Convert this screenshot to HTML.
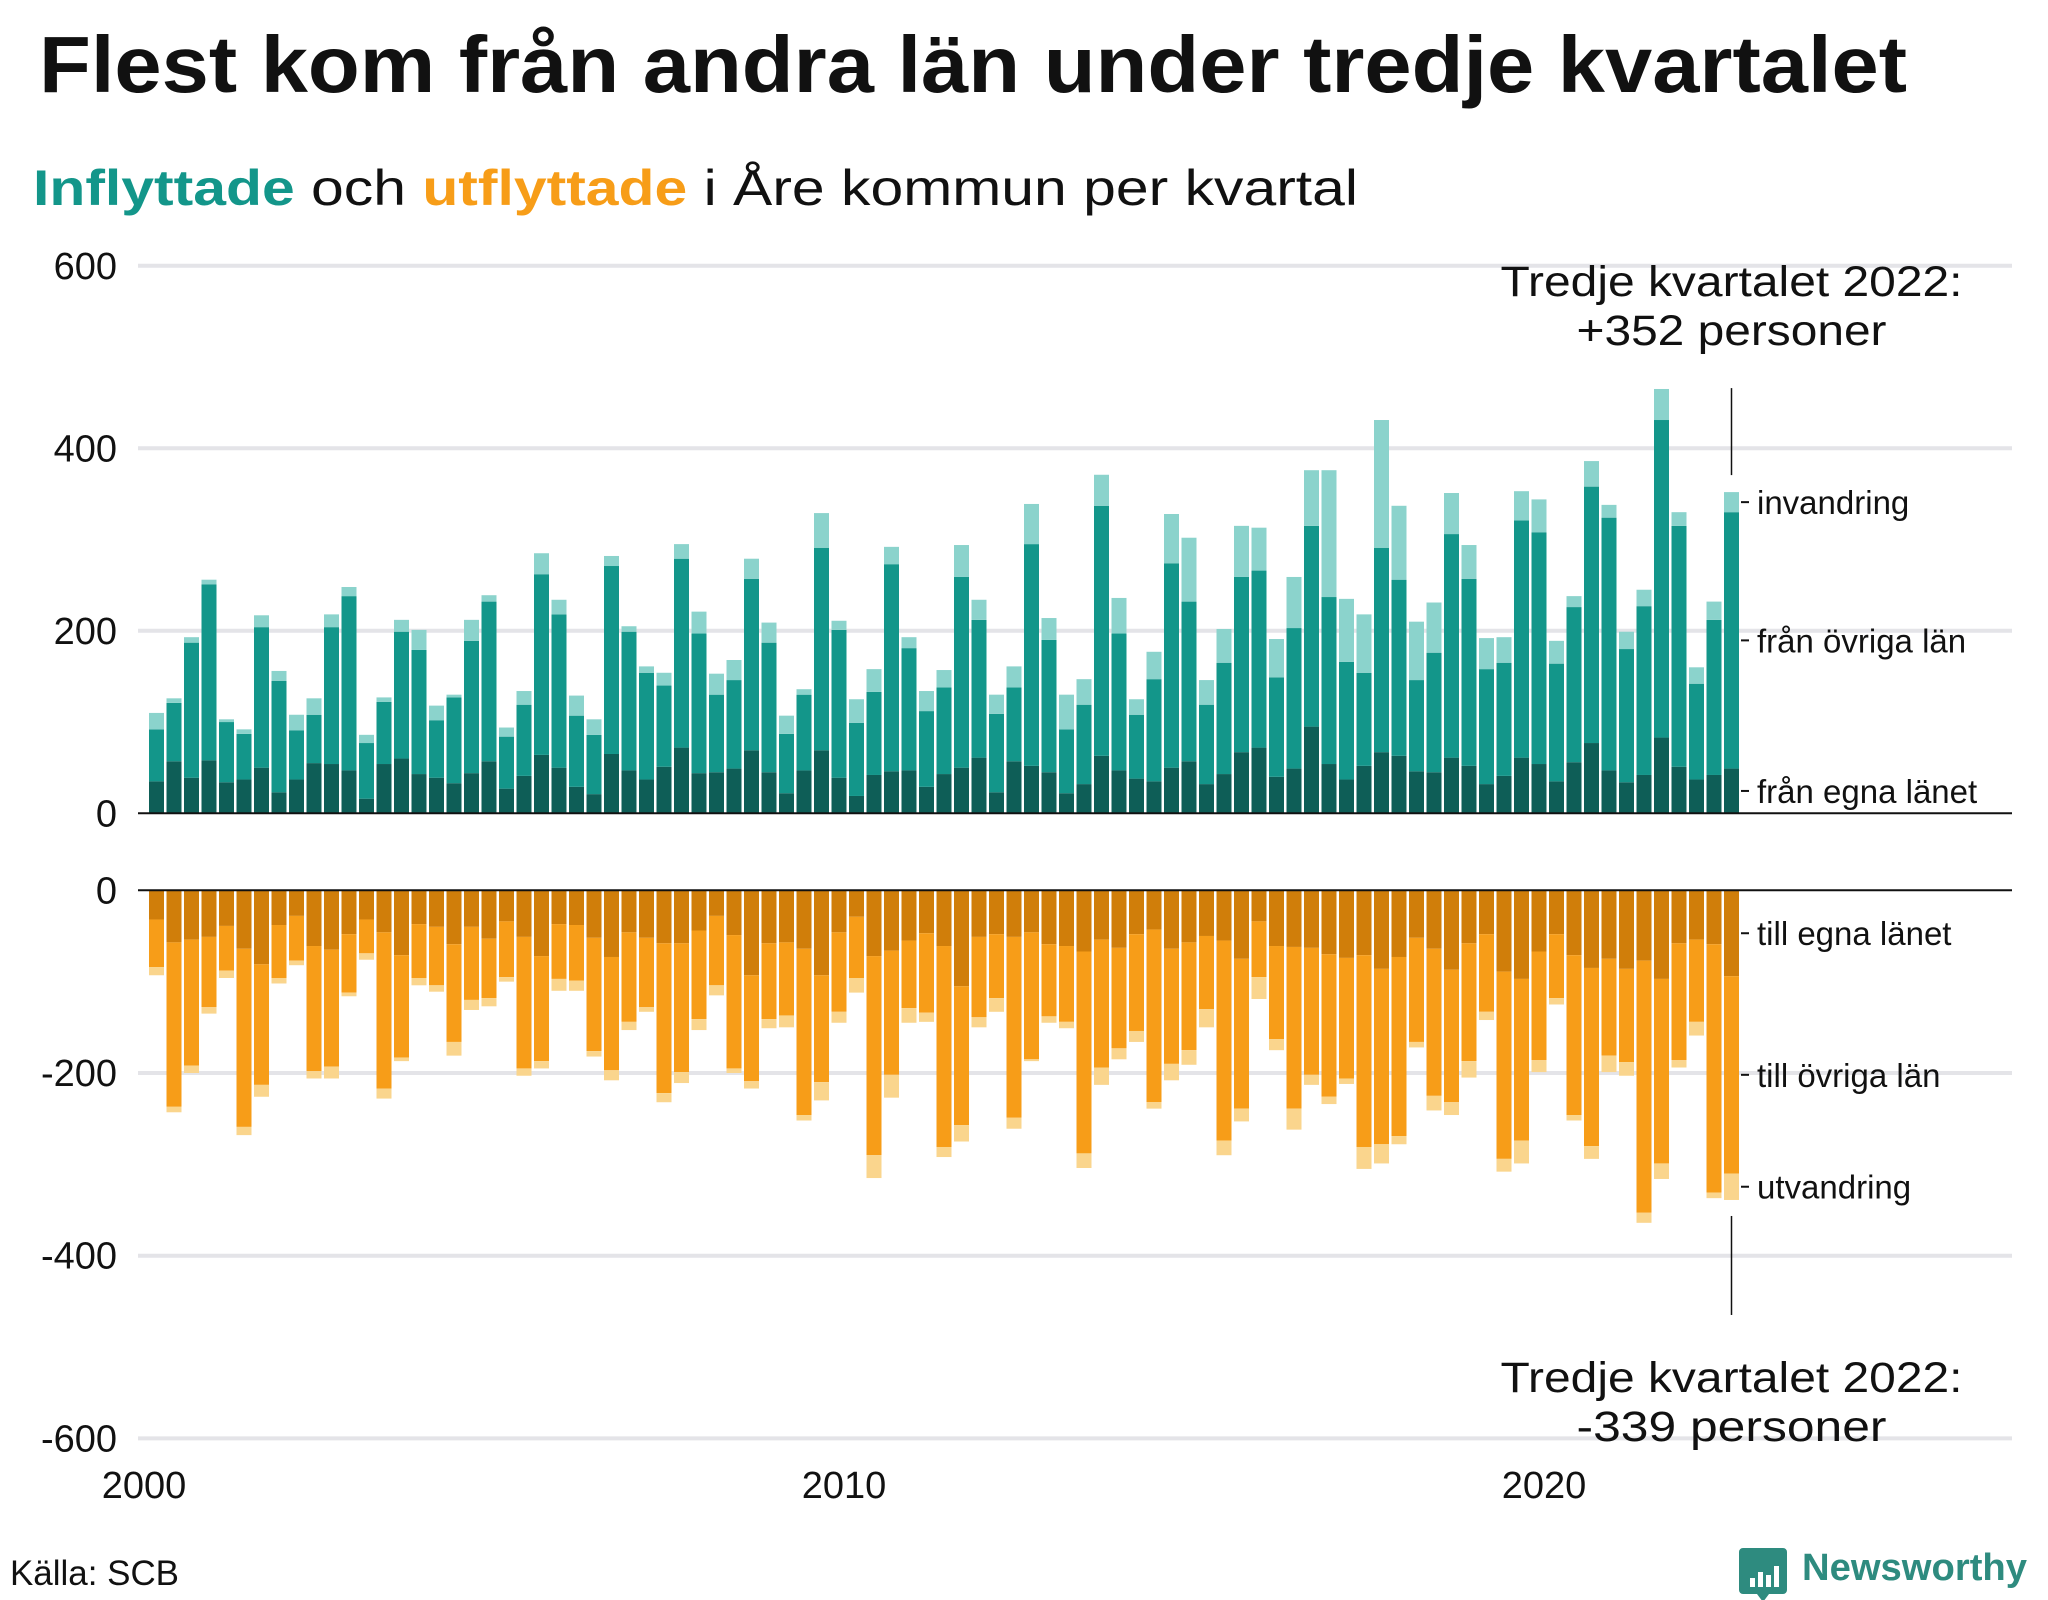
<!DOCTYPE html>
<html lang="sv">
<head>
<meta charset="utf-8">
<title>Flest kom från andra län under tredje kvartalet</title>
<style>
  html, body { margin: 0; padding: 0; background: #fff; }
  body { width: 2048px; height: 1600px; overflow: hidden; }
  svg { display: block; font-family: "Liberation Sans", "DejaVu Sans", sans-serif; }
</style>
</head>
<body>
<svg id="chart" width="2048" height="1600" viewBox="0 0 2048 1600" xmlns="http://www.w3.org/2000/svg">
  <text x="39" y="92" font-size="80" font-weight="bold" fill="#111" textLength="1868" lengthAdjust="spacingAndGlyphs">Flest kom från andra län under tredje kvartalet</text>
  <text x="33" y="205" font-size="50" fill="#111" textLength="1325" lengthAdjust="spacingAndGlyphs"><tspan font-weight="bold" fill="#13968a">Inflyttade</tspan> och <tspan font-weight="bold" fill="#f79d18">utflyttade</tspan> i Åre kommun per kvartal</text>
  <g id="grid"></g>
  <g id="bars-in"></g>
  <g id="bars-out"></g>
  <g id="axes"></g>
  <g id="annot"></g>
  <text x="10" y="1585" font-size="35" fill="#111" textLength="169" lengthAdjust="spacingAndGlyphs">Källa: SCB</text>
  <g>
    <path d="M1743 1548 h40 a4 4 0 0 1 4 4 v38 a4 4 0 0 1 -4 4 h-14 l-6 8 l-6 -8 h-14 a4 4 0 0 1 -4 -4 v-38 a4 4 0 0 1 4 -4z" fill="#2e8b7f"/>
    <rect x="1750" y="1578" width="5" height="9" fill="#fff"/>
    <rect x="1758" y="1572" width="5" height="15" fill="#fff"/>
    <rect x="1766" y="1575" width="5" height="12" fill="#fff"/>
    <rect x="1774" y="1566" width="5" height="21" fill="#fff"/>
    <text x="1802" y="1580" font-size="38" font-weight="bold" fill="#2e8b7f" textLength="225" lengthAdjust="spacingAndGlyphs">Newsworthy</text>
  </g>
</svg>
<script>
const years = [2000, 2010, 2020];
const inTicks = [0, 200, 400, 600];
const outTicks = [0, -200, -400, -600];
const inEgna = [35,57,39,58,34,37,50,23,37,55,54,47,16,54,60,43,39,33,44,57,27,41,64,50,29,21,65,47,37,51,72,44,45,49,69,45,22,47,69,39,19,42,46,47,29,43,50,61,23,57,52,45,22,32,63,47,38,35,50,57,32,43,67,72,40,49,95,54,37,52,67,63,46,45,61,52,32,41,61,54,35,56,77,47,34,42,83,51,37,42,49];
const inOvriga = [57,64,148,193,66,50,154,122,54,53,150,191,61,68,139,136,63,94,145,175,57,78,198,168,78,65,206,152,117,89,207,153,85,97,188,142,65,83,222,162,80,91,227,134,83,95,209,151,86,81,243,145,70,87,274,150,70,112,224,175,87,122,192,194,109,154,220,183,129,102,224,193,100,131,245,205,126,124,260,254,129,170,281,277,146,185,348,264,105,170,281];
const inInvandring = [18,5,6,5,3,5,13,11,17,18,14,10,9,5,13,22,16,3,23,7,10,15,23,16,22,17,11,6,7,14,16,24,23,22,22,22,20,6,38,10,26,25,19,12,22,19,35,22,21,23,44,24,38,28,34,39,17,30,54,70,27,37,56,47,42,56,61,139,69,64,140,81,64,55,45,37,34,28,32,36,25,12,28,14,19,18,34,15,18,20,22];
const outEgna = [32,57,54,51,39,64,81,38,28,61,65,48,32,46,71,37,40,59,40,53,34,51,72,37,38,52,73,46,52,58,58,44,28,49,93,58,57,64,93,46,29,72,66,55,47,61,105,51,48,51,46,59,61,67,54,63,48,43,64,57,50,55,75,34,61,62,63,70,74,71,86,73,52,64,87,58,48,89,97,67,48,71,85,75,86,77,97,58,54,59,94];
const outOvriga = [52,180,138,77,49,195,132,58,49,137,128,64,37,171,112,59,64,107,80,65,61,144,115,60,61,124,124,98,76,164,141,97,76,146,116,83,80,182,117,87,67,218,136,74,87,220,152,88,70,198,139,79,83,221,140,110,106,189,126,118,80,219,164,61,102,177,139,156,132,210,192,196,114,161,145,129,85,205,177,119,70,175,195,106,102,276,202,128,90,272,216];
const outUtvandring = [9,6,8,7,8,9,13,6,5,8,13,4,7,11,4,8,7,15,11,9,5,8,8,13,11,6,11,9,5,10,12,12,11,5,8,10,13,6,20,12,16,25,25,16,10,11,18,11,15,12,2,7,7,16,19,12,12,7,18,16,20,16,14,24,12,23,11,8,6,24,21,9,6,16,14,18,9,14,25,13,7,6,14,18,15,11,17,8,15,6,29];
const inLabels = ["från egna länet", "från övriga län", "invandring"];
const outLabels = ["till egna länet", "till övriga län", "utvandring"];

const NS = "http://www.w3.org/2000/svg";
const X0 = 144, PX_PER_QUARTER = 17.5, BAR_OFF = 5, BAR_W = 15;
const GRID_X1 = 138, GRID_X2 = 2012;
function xYear(y) { return X0 + (y - 2000) * 4 * PX_PER_QUARTER; }
function xBar(i) { return X0 + i * PX_PER_QUARTER + BAR_OFF; }
function yIn(v) { return 813.3 - v * 0.9125; }
function yOut(v) { return 890.3 + v * 0.9135; }
function mk(tag, attrs, parent) {
  const el = document.createElementNS(NS, tag);
  for (const k in attrs) el.setAttribute(k, attrs[k]);
  parent.appendChild(el);
  return el;
}
const grid = document.getElementById('grid');
const axes = document.getElementById('axes');
const gIn = document.getElementById('bars-in');
const gOut = document.getElementById('bars-out');
const annot = document.getElementById('annot');

inTicks.forEach(t => {
  const y = yIn(t);
  if (t !== 0) {
    const l = mk('line', {x1: GRID_X1, x2: GRID_X2, y1: y, y2: y, stroke: '#e4e4e8', 'stroke-width': 4}, grid);
    
    
  }
  const tx = mk('text', {x: 117, y: y + 13, 'font-size': 38, 'text-anchor': 'end', fill: '#111'}, axes);
  tx.textContent = String(t);
  
  
});
outTicks.forEach(t => {
  const y = yOut(-t);
  if (t !== 0) {
    const l = mk('line', {x1: GRID_X1, x2: GRID_X2, y1: y, y2: y, stroke: '#e4e4e8', 'stroke-width': 4}, grid);
    
    
  }
  const tx = mk('text', {x: 117, y: y + 13, 'font-size': 38, 'text-anchor': 'end', fill: '#111'}, axes);
  tx.textContent = String(t);
  
  
});
years.forEach(yr => {
  const tx = mk('text', {x: xYear(yr), y: 1498, 'font-size': 38, 'text-anchor': 'middle', fill: '#111'}, axes);
  tx.textContent = String(yr);
  
  
});

const inColors = ['#0e5e57', '#13968a', '#8bd3cc'];
const outColors = ['#d07e0a', '#f79d18', '#fad58d'];
const inSeries = [inEgna, inOvriga, inInvandring];
const outSeries = [outEgna, outOvriga, outUtvandring];
const inNames = ['bar-in-egna', 'bar-in-ovriga', 'bar-in-invandring'];
const outNames = ['bar-out-egna', 'bar-out-ovriga', 'bar-out-utvandring'];
const N = inEgna.length;
for (let i = 0; i < N; i++) {
  let acc = 0;
  inSeries.forEach((s, k) => {
    const y1 = yIn(acc), y2 = yIn(acc + s[i]);
    const r = mk('rect', {x: xBar(i), y: y2, width: BAR_W, height: Math.max(0, y1 - y2), fill: inColors[k]}, gIn);
    
    
    acc += s[i];
  });
  acc = 0;
  outSeries.forEach((s, k) => {
    const y1 = yOut(acc), y2 = yOut(acc + s[i]);
    const r = mk('rect', {x: xBar(i), y: y1, width: BAR_W, height: Math.max(0, y2 - y1), fill: outColors[k]}, gOut);
    
    
    acc += s[i];
  });
}
const z1 = mk('line', {x1: GRID_X1, x2: GRID_X2, y1: yIn(0), y2: yIn(0), stroke: '#111', 'stroke-width': 2}, axes);


const z2 = mk('line', {x1: GRID_X1, x2: GRID_X2, y1: yOut(0), y2: yOut(0), stroke: '#111', 'stroke-width': 2}, axes);



const last = N - 1;
const lx = xBar(last) + BAR_W;
let acc = 0;
inSeries.forEach((s, k) => {
  const ym = yIn(acc + s[last] / 2);
  mk('line', {x1: lx + 2, x2: lx + 10, y1: ym, y2: ym, stroke: '#111', 'stroke-width': 2}, annot);
  const t = mk('text', {x: lx + 18, y: ym + 12, 'font-size': 33, fill: '#111'}, annot);
  t.textContent = inLabels[k];
  
  
  acc += s[last];
});
const inTotal = acc;
acc = 0;
outSeries.forEach((s, k) => {
  const ym = yOut(acc + s[last] / 2);
  mk('line', {x1: lx + 2, x2: lx + 10, y1: ym, y2: ym, stroke: '#111', 'stroke-width': 2}, annot);
  const t = mk('text', {x: lx + 18, y: ym + 12, 'font-size': 33, fill: '#111'}, annot);
  t.textContent = outLabels[k];
  
  
  acc += s[last];
});
const outTotal = acc;

const cx = xBar(last) + BAR_W / 2;
const l1 = mk('line', {x1: cx, x2: cx, y1: yIn(inTotal) - 104, y2: yIn(inTotal) - 17, stroke: '#111', 'stroke-width': 1.5}, annot);


const l2 = mk('line', {x1: cx, x2: cx, y1: yOut(outTotal) + 16, y2: yOut(outTotal) + 115, stroke: '#111', 'stroke-width': 1.5}, annot);



function annText(lines, y0, name) {
  lines.forEach((s, j) => {
    const t = mk('text', {x: cx, y: y0 + j * 49, 'font-size': 43, 'text-anchor': 'middle', fill: '#111'}, annot);
    t.setAttribute('textLength', j === 0 ? 462 : 310);
    t.setAttribute('lengthAdjust', 'spacingAndGlyphs');
    t.textContent = s;
    
    
  });
}
annText(['Tredje kvartalet 2022:', '+' + inTotal + ' personer'], 296, 'annotation-in');
annText(['Tredje kvartalet 2022:', '-' + outTotal + ' personer'], 1392, 'annotation-out');
</script>
</body>
</html>
